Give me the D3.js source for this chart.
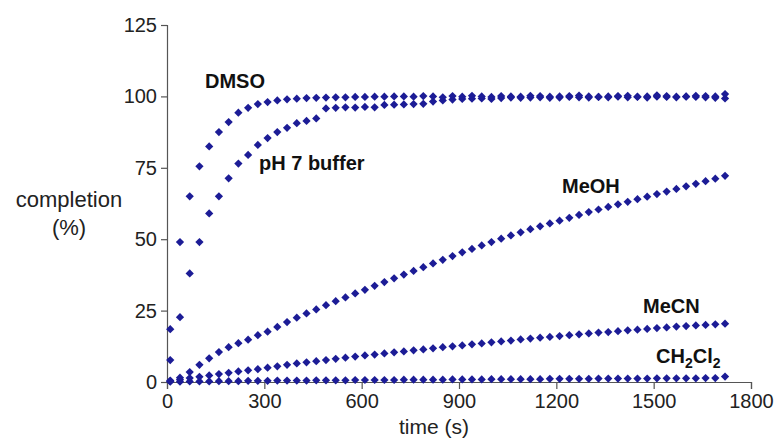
<!DOCTYPE html>
<html>
<head>
<meta charset="utf-8">
<script src="https://cdn.jsdelivr.net/npm/d3@7"></script>
<style>
  body { margin: 0; background: #fff; }
  svg { display: block; font-family: "Liberation Sans", Arial, sans-serif; }
</style>
</head>
<body>
<div class="chart"></div>
<script>
// sampling times (s): one reading every 30 s starting at 10 s
var times = d3.range(10, 1721, 30);

// % completion
var dmso = [18.5, 49, 65, 75.5, 82.5, 87.5, 91, 94.3, 96, 97.3,
  98, 98.6, 99, 99.2, 99.4, 99.5, 99.6, 99.7, 99.7, 99.8,
  99.8, 99.9, 99.9, 100, 100, 99.9, 100.1, 100, 99.7, 100.1,
  99.9, 100.2, 100, 99.8, 100.1, 100, 99.9, 100.2, 100.1, 99.9,
  100, 100.1, 100.3, 100, 99.8, 100, 100.1, 100.2, 99.9, 100,
  100.4, 100.1, 99.9, 100, 100.2, 100.1, 100, 100.8];
var ph7 = [7.7, 22.7, 38, 49, 59, 65, 71.3, 76.5, 79.5, 83,
  85.4, 87.5, 89, 90.6, 91.4, 92.3, 95.8, 96, 96.2, 96.1,
  96.3, 96.2, 97, 97.1, 97.2, 97.3, 97.4, 98.2, 98.6, 98.9,
  99.1, 99.2, 99.3, 99.1, 99.4, 99.6, 99.5, 99.6, 99.7, 99.5,
  99.6, 99.8, 99.7, 99.6, 99.8, 99.7, 99.9, 99.7, 99.8, 99.6,
  99.9, 99.8, 99.7, 99.9, 99.8, 99.7, 99.5, 99.3];
var meoh = [0.5, 1.5, 3.5, 6.0, 8.3, 10.5, 12.2, 13.6, 14.8, 16.4,
  17.6, 19.3, 21.0, 22.5, 24.0, 25.4, 26.9, 28.3, 29.6, 31.0,
  32.3, 33.7, 35.0, 36.3, 37.6, 38.9, 40.2, 41.5, 42.8, 44.1,
  45.4, 46.6, 47.8, 49.0, 50.2, 51.3, 52.4, 53.5, 54.5, 55.5,
  56.5, 57.5, 58.5, 59.5, 60.4, 61.3, 62.2, 63.1, 64.0, 64.9,
  65.8, 66.7, 67.6, 68.5, 69.4, 70.3, 71.2, 72.2];
var mecn = [0.3, 0.8, 1.4, 1.8, 2.3, 2.8, 3.2, 3.7, 4.1, 4.5,
  5.0, 5.5, 6.0, 6.5, 6.9, 7.3, 7.7, 8.1, 8.5, 8.9,
  9.3, 9.6, 10.0, 10.4, 10.7, 11.1, 11.4, 11.8, 12.2, 12.5,
  12.8, 13.2, 13.5, 13.9, 14.2, 14.5, 14.9, 15.2, 15.5, 15.8,
  16.1, 16.4, 16.7, 17.0, 17.3, 17.5, 17.8, 18.1, 18.3, 18.6,
  18.9, 19.1, 19.4, 19.6, 19.8, 20.0, 20.2, 20.4];
var ch2cl2 = [0.1, 0.1, 0.2, 0.2, 0.2, 0.3, 0.3, 0.3, 0.4, 0.4,
  0.4, 0.5, 0.5, 0.5, 0.5, 0.6, 0.6, 0.6, 0.6, 0.7,
  0.7, 0.7, 0.7, 0.7, 0.8, 0.8, 0.8, 0.8, 0.8, 0.9,
  0.9, 0.9, 0.9, 1.0, 1.0, 1.0, 1.0, 1.0, 1.0, 1.1,
  1.1, 1.1, 1.1, 1.1, 1.2, 1.2, 1.2, 1.2, 1.2, 1.2,
  1.3, 1.3, 1.3, 1.3, 1.3, 1.4, 1.4, 1.9];

var xTicks = [0, 300, 600, 900, 1200, 1500, 1800];
var yTicks = [0, 25, 50, 75, 100, 125];

var width = 780, height = 444;
var markColor = '#1c1c96';
var axisColor = '#555';

var svg = d3.select('.chart')
  .append('svg')
    .attr('width', width)
    .attr('height', height);

var xScale = d3.scaleLinear()
  .domain([0, 1800])
  .range([167, 751]);

var yScale = d3.scaleLinear()
  .domain([0, 125])
  .range([382, 25]);

// axes
var xAxis = d3.axisBottom(xScale)
  .tickValues(xTicks)
  .tickFormat(d3.format('d'))
  .tickSizeOuter(0)
  .tickSize(7)
  .tickPadding(5);

var yAxis = d3.axisLeft(yScale)
  .tickValues(yTicks)
  .tickSizeOuter(0)
  .tickSize(6)
  .tickPadding(4);

var gx = svg.append('g')
    .attr('transform', `translate(0, ${yScale(0)})`)
  .call(xAxis);

var gy = svg.append('g')
    .attr('transform', `translate(${xScale(0)}, 0)`)
  .call(yAxis);

[gx, gy].forEach(function (g) {
  g.selectAll('path, line').attr('stroke', axisColor).attr('stroke-width', 1.2);
  g.selectAll('text')
    .attr('fill', '#222')
    .style('font-size', '20px')
    .style('font-family', '"Liberation Sans", Arial, sans-serif');
});

// axis titles
svg.append('text')
  .attr('x', 434)
  .attr('y', 434)
  .attr('text-anchor', 'middle')
  .attr('fill', '#222')
  .style('font-size', '21px')
  .text('time (s)');

svg.append('text')
  .attr('x', 69)
  .attr('y', 207)
  .attr('text-anchor', 'middle')
  .attr('fill', '#222')
  .style('font-size', '22px')
  .text('completion');

svg.append('text')
  .attr('x', 69)
  .attr('y', 235)
  .attr('text-anchor', 'middle')
  .attr('fill', '#222')
  .style('font-size', '22px')
  .text('(%)');

// data series, drawn as diamonds
var series = [
  { name: 'CH2Cl2', values: ch2cl2 },
  { name: 'MeCN', values: mecn },
  { name: 'MeOH', values: meoh },
  { name: 'pH 7 buffer', values: ph7 },
  { name: 'DMSO', values: dmso }
];

var diamond = d3.symbol().type(d3.symbolSquare).size(34);

series.forEach(function (s) {
  svg.append('g')
    .selectAll('path')
    .data(s.values)
    .enter()
    .append('path')
      .attr('d', diamond)
      .attr('transform', (d, i) => `translate(${xScale(times[i])}, ${yScale(d)}) rotate(45)`)
      .attr('fill', markColor);
});

// series labels
var labels = svg.append('g')
  .attr('fill', '#111')
  .style('font-size', '20px')
  .style('font-weight', 'bold');

labels.append('text').attr('x', 205).attr('y', 88).text('DMSO');
labels.append('text').attr('x', 259).attr('y', 170).text('pH 7 buffer');
labels.append('text').attr('x', 562).attr('y', 193).text('MeOH');
labels.append('text').attr('x', 643).attr('y', 313).text('MeCN');

var ch = labels.append('text').attr('x', 656).attr('y', 363);
ch.append('tspan').text('CH');
ch.append('tspan').attr('dy', 5).style('font-size', '14px').text('2');
ch.append('tspan').attr('dy', -5).text('Cl');
ch.append('tspan').attr('dy', 5).style('font-size', '14px').text('2');
</script>
</body>
</html>
